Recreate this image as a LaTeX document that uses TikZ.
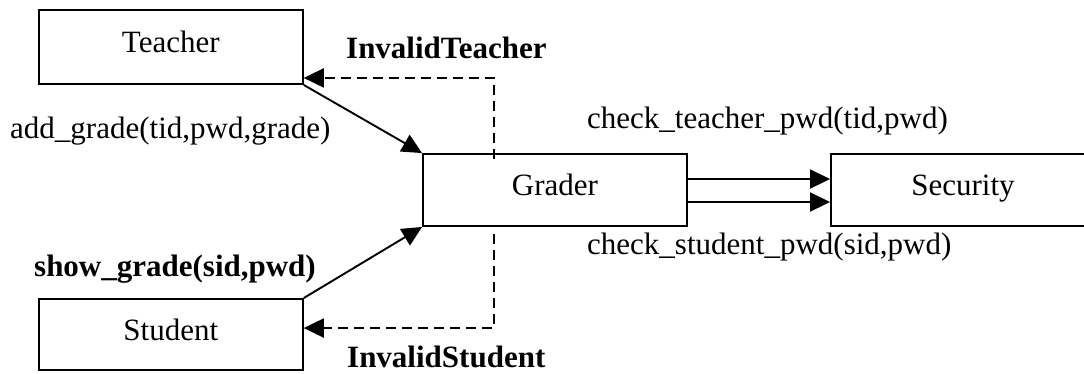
\documentclass[tikz,border=0pt]{standalone}
\usepackage{fontspec}
\setmainfont{Liberation Serif}
\usetikzlibrary{arrows.meta}
\begin{document}
\begin{tikzpicture}[x=1pt,y=-1pt,
  box/.style={draw,line width=1.9pt,inner sep=0pt,minimum width=264pt,minimum height=72pt,
    text height=20pt,text depth=9pt,font=\fontsize{31}{36}\selectfont},
  lbl/.style={inner sep=0pt,anchor=base west,font=\fontsize{31}{36}\selectfont},
  blbl/.style={lbl,font=\fontsize{31}{36}\selectfont\bfseries},
  conn/.style={line width=1.9pt,-{Triangle[length=20pt,width=19pt]}},
  dconn/.style={conn,dash pattern=on 10pt off 6pt}]
\useasboundingbox (0,0) rectangle (1084,373);
\node[box,minimum height=74pt] (teacher) at (170.8,47) {Teacher};
\node[box,minimum height=71pt] (student) at (170.8,334.5) {Student};
\node[box] (grader) at (555,190) {Grader};
\node[box] (security) at (963,190) {Security};
\node[blbl] (invT) at (346,58) {InvalidTeacher};
\node[lbl] (addg) at (10,138) {add\_grade(tid,pwd,grade)};
\node[blbl] (showg) at (34,276) {show\_grade(sid,pwd)};
\node[blbl] (invS) at (347,367) {InvalidStudent};
\node[lbl] (chkT) at (587,128) {check\_teacher\_pwd(tid,pwd)};
\node[lbl] (chkS) at (587,254) {check\_student\_pwd(sid,pwd)};
\draw[conn] (teacher.south east) -- (grader.north west);
\draw[conn] (student.north east) -- (grader.south west);
\draw[conn] ([yshift=11pt]grader.east) -- ([yshift=11pt]security.west);
\draw[conn] ([yshift=-12pt]grader.east) -- ([yshift=-12pt]security.west);
\draw[dconn] ([xshift=72pt,yshift=-6pt]grader.north west) |- ([yshift=7pt]teacher.south east);
\draw[dconn] ([xshift=72pt,yshift=-7pt]grader.south west) |- ([yshift=-30pt]student.north east);
\end{tikzpicture}
\end{document}
